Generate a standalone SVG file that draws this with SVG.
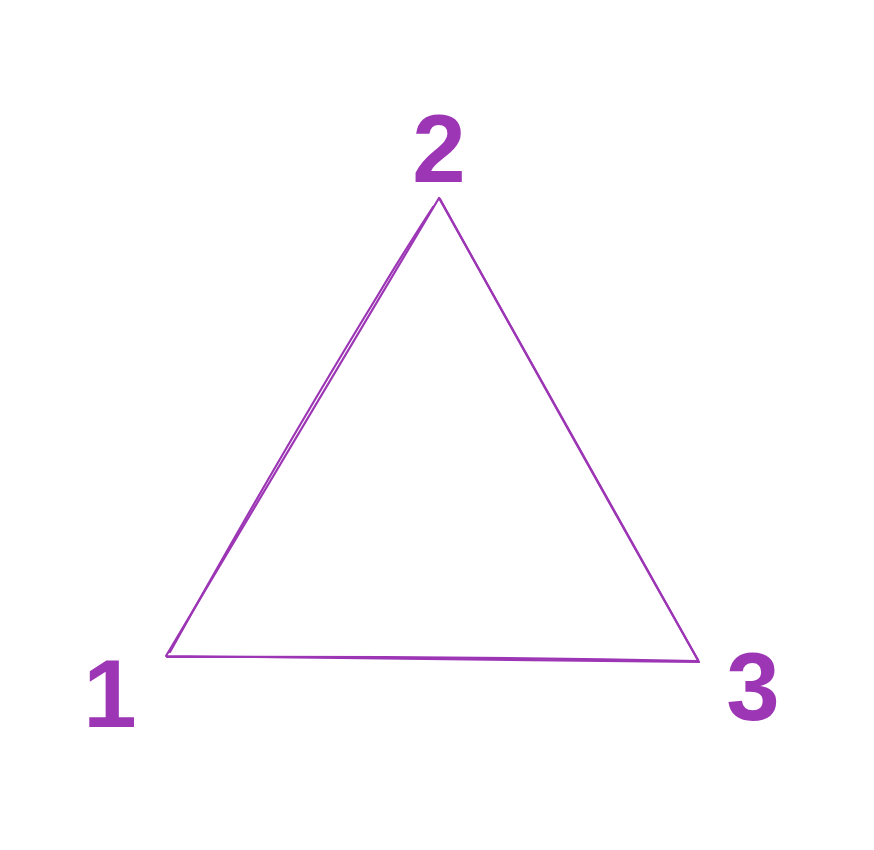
<svg xmlns="http://www.w3.org/2000/svg" width="874" height="850" viewBox="0 0 874 850">
<style>
.edge{fill:none;stroke:#9c36b5;stroke-width:2.2;stroke-linecap:round;stroke-linejoin:round}
.lbl{font-family:"Liberation Sans","Lato",sans-serif;font-weight:bold;font-size:96px;fill:#9c36b5;text-anchor:middle}
</style>
<rect width="874" height="850" fill="#ffffff"/>
<g id="triangle">
<path class="edge" d="M166 656 Q300 430 439 198 Q570 430 699 662 Q430 659 166 656 Z"/>
<path class="edge" d="M170 652 Q280 455 378 295 Q400 258 433 207 M440 199 Q565 425 698 660 M697 661 Q440 656 167 657"/>
</g>
<g id="node-1"><text class="lbl" x="110" y="727">1</text></g>
<g id="node-2"><text class="lbl" x="439" y="182">2</text></g>
<g id="node-3"><text class="lbl" x="753" y="720">3</text></g>
</svg>
